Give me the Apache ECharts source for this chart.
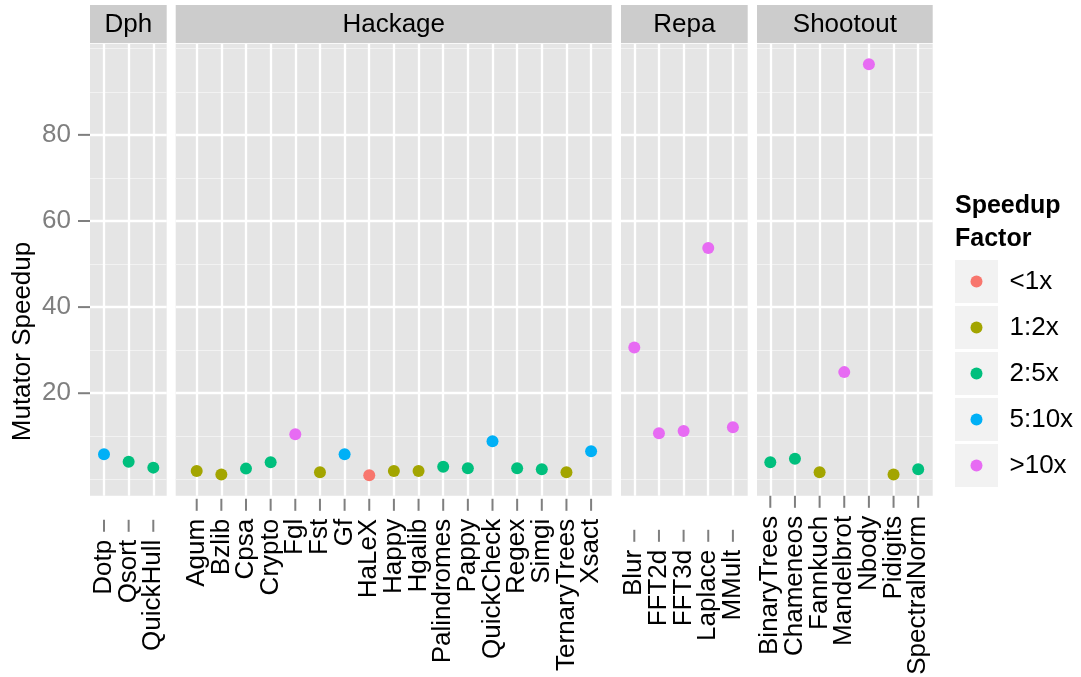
<!DOCTYPE html>
<html>
<head>
<meta charset="utf-8">
<script src="https://cdn.jsdelivr.net/npm/echarts@6/dist/echarts.min.js"></script>
<style>
  html, body { margin: 0; padding: 0; background: #ffffff; }
  #chart { width: 1081px; height: 677px; }
</style>
</head>
<body>
<div id="chart"></div>
<script>
// Benchmarks per suite and their mutator speedups
const dphNames = ['Dotp', 'Qsort', 'QuickHull'];
const dphSpeedup = [5.83, 4.11, 2.72];

const hackageNames = ['Agum', 'Bzlib', 'Cpsa', 'Crypto', 'Fgl', 'Fst', 'Gf', 'HaLeX', 'Happy', 'Hgalib',
  'Palindromes', 'Pappy', 'QuickCheck', 'Regex', 'Simgi', 'TernaryTrees', 'Xsact'];
const hackageSpeedup = [1.92, 1.12, 2.49, 3.97, 10.48, 1.65, 5.83, 0.95, 1.92, 1.92,
  2.95, 2.6, 8.85, 2.6, 2.35, 1.65, 6.5];

const repaNames = ['Blur', 'FFT2d', 'FFT3d', 'Laplace', 'MMult'];
const repaSpeedup = [30.6, 10.7, 11.2, 53.7, 12.1];

const shootoutNames = ['BinaryTrees', 'Chameneos', 'Fannkuch', 'Mandelbrot', 'Nbody', 'Pidigits', 'SpectralNorm'];
const shootoutSpeedup = [3.97, 4.8, 1.65, 24.9, 96.4, 1.12, 2.35];

const yBreaks = [20, 40, 60, 80];
const yMinorBreaks = [0, 10, 30, 50, 70, 90, 100];

const factorLevels = ['<1x', '1:2x', '2:5x', '5:10x', '>10x'];
const factorColors = ['#F8766D', '#A3A500', '#00BF7D', '#00B0F6', '#E76BF3'];

function factorOf(v) {
  if (v < 1) return 0;
  if (v < 2) return 1;
  if (v < 5) return 2;
  if (v < 10) return 3;
  return 4;
}

// Facet layout (pixels)
const FONT = 'Liberation Sans';
const plotTop = 43.7, plotBottom = 495.8;
const stripTop = 5, stripBottom = 43;
const unit = 24.65;      // width of one category step
const tickLen = 12;
const labelGap = 20;     // from axis line to the end of a rotated label
const tickColor = '#7F7F7F';
const panels = [
  { title: 'Dph',      names: dphNames,      values: dphSpeedup,      left: 90,    right: 166.7, first: 104,   axisOffset: 24 },
  { title: 'Hackage',  names: hackageNames,  values: hackageSpeedup,  left: 175.7, right: 611.7, first: 196.7, axisOffset: 3 },
  { title: 'Repa',     names: repaNames,     values: repaSpeedup,     left: 621,   right: 747.7, first: 634.3, axisOffset: 34 },
  { title: 'Shootout', names: shootoutNames, values: shootoutSpeedup, left: 757,   right: 932.7, first: 770.3, axisOffset: 0 }
];

// Shared y range: data range expanded by 5% on each side
const allValues = [].concat(dphSpeedup, hackageSpeedup, repaSpeedup, shootoutSpeedup);
const dataMin = Math.min.apply(null, allValues);
const dataMax = Math.max.apply(null, allValues);
const pad = (dataMax - dataMin) * 0.05;
const yMin = dataMin - pad, yMax = dataMax + pad;

const grids = [], xAxes = [], yAxes = [], series = [], graphics = [];

panels.forEach(function (p, i) {
  const idx = p.names.map(function (_, k) { return k; });
  const xMin = -(p.first - p.left) / unit;
  const xMax = xMin + (p.right - p.left) / unit;

  grids.push({
    left: p.left, top: plotTop, width: p.right - p.left, height: plotBottom - plotTop,
    show: true, backgroundColor: '#E5E5E5', borderWidth: 0
  });

  // Scales only; ticks and benchmark labels are drawn by the custom series below
  xAxes.push({
    gridIndex: i, type: 'value', min: xMin, max: xMax, show: false
  });

  yAxes.push({
    gridIndex: i, type: 'value', min: yMin, max: yMax, show: i === 0,
    axisLine: { show: false }, axisTick: { show: false }, splitLine: { show: false },
    axisLabel: {
      customValues: yBreaks, margin: 19, hideOverlap: false,
      fontSize: 26, fontFamily: FONT, color: '#7F7F7F'
    }
  });

  // Panel grid lines
  const lines = [];
  yMinorBreaks.forEach(function (v) { lines.push({ yAxis: v, lineStyle: { color: '#F2F2F2', width: 1.2 } }); });
  yBreaks.forEach(function (v) { lines.push({ yAxis: v, lineStyle: { color: '#FFFFFF', width: 2.3 } }); });
  idx.forEach(function (k) { lines.push({ xAxis: k, lineStyle: { color: '#FFFFFF', width: 2.3 } }); });
  series.push({
    type: 'scatter', xAxisIndex: i, yAxisIndex: i, data: [], silent: true, z: 1,
    markLine: {
      z: 1, silent: true, symbol: ['none', 'none'], animation: false,
      label: { show: false }, emphasis: { disabled: true },
      lineStyle: { type: 'solid' },
      data: lines
    }
  });

  // Bottom axis: a tick and a rotated benchmark name per category
  series.push({
    type: 'custom', xAxisIndex: i, yAxisIndex: i, clip: false, silent: true, z: 2,
    data: idx.map(function (k) { return [k, yMin]; }),
    renderItem: function (params, api) {
      const pt = api.coord([api.value(0), api.value(1)]);
      const y0 = pt[1] + p.axisOffset;
      return {
        type: 'group',
        children: [
          {
            type: 'line',
            shape: { x1: pt[0], y1: y0, x2: pt[0], y2: y0 + tickLen },
            style: { stroke: tickColor, lineWidth: 2 }
          },
          {
            type: 'text', x: pt[0], y: y0 + labelGap, rotation: Math.PI / 2,
            style: {
              text: p.names[params.dataIndex], fill: '#000000',
              font: '26px "' + FONT + '"', align: 'right', verticalAlign: 'middle'
            }
          }
        ]
      };
    }
  });

  // Left axis ticks on the first panel
  if (i === 0) {
    series.push({
      type: 'custom', xAxisIndex: i, yAxisIndex: i, clip: false, silent: true, z: 2,
      data: yBreaks.map(function (v) { return [xMin, v]; }),
      renderItem: function (params, api) {
        const pt = api.coord([api.value(0), api.value(1)]);
        return {
          type: 'line',
          shape: { x1: pt[0] - tickLen, y1: pt[1], x2: pt[0], y2: pt[1] },
          style: { stroke: tickColor, lineWidth: 2 }
        };
      }
    });
  }

  // Points grouped by speedup factor
  factorLevels.forEach(function (lvl, f) {
    const pts = [];
    p.values.forEach(function (v, k) { if (factorOf(v) === f) pts.push([k, v]); });
    if (!pts.length) return;
    series.push({
      type: 'scatter', name: lvl, xAxisIndex: i, yAxisIndex: i, z: 6,
      symbol: 'circle', symbolSize: 12, data: pts,
      itemStyle: { color: factorColors[f], opacity: 1 },
      emphasis: { disabled: true }
    });
  });

  // Facet strip
  graphics.push({
    type: 'rect', shape: { x: p.left, y: stripTop, width: p.right - p.left, height: stripBottom - stripTop },
    style: { fill: '#CCCCCC' }, silent: true
  });
  graphics.push({
    type: 'text', x: (p.left + p.right) / 2, y: (stripTop + stripBottom) / 2 + 1, silent: true,
    style: { text: p.title, fill: '#000000', font: '26px "' + FONT + '"', align: 'center', verticalAlign: 'middle' }
  });
});

// Axis title
graphics.push({
  type: 'text', x: 23, y: 341.5, rotation: Math.PI / 2, silent: true,
  style: { text: 'Mutator Speedup', fill: '#000000', font: '26px "' + FONT + '"', align: 'center', verticalAlign: 'middle' }
});

// Legend title and key backgrounds
const legendLeft = 955, legendTop = 260, keySize = 43, keyGap = 3;
graphics.push({
  type: 'text', x: legendLeft, y: 189, silent: true,
  style: { text: 'Speedup\nFactor', fill: '#000000', font: 'bold 25px "' + FONT + '"', lineHeight: 33.4, align: 'left', verticalAlign: 'top' }
});
factorLevels.forEach(function (_, k) {
  graphics.push({
    type: 'rect', shape: { x: legendLeft, y: legendTop + k * (keySize + keyGap), width: keySize, height: keySize },
    style: { fill: '#F2F2F2' }, silent: true
  });
});

const chart = echarts.init(document.getElementById('chart'), null, { renderer: 'canvas' });
chart.setOption({
  animation: false,
  backgroundColor: '#ffffff',
  grid: grids,
  xAxis: xAxes,
  yAxis: yAxes,
  series: series,
  graphic: graphics,
  legend: {
    orient: 'vertical', left: legendLeft + (keySize - 12) / 2, top: legendTop, padding: 0,
    itemWidth: 12, itemHeight: 12, itemGap: keyGap, icon: 'circle',
    selectedMode: false, data: factorLevels,
    textStyle: { fontSize: 26, fontFamily: FONT, color: '#000000', height: keySize, lineHeight: keySize, padding: [0, 0, 0, 22] }
  },
  tooltip: { show: false }
});
</script>
</body>
</html>
